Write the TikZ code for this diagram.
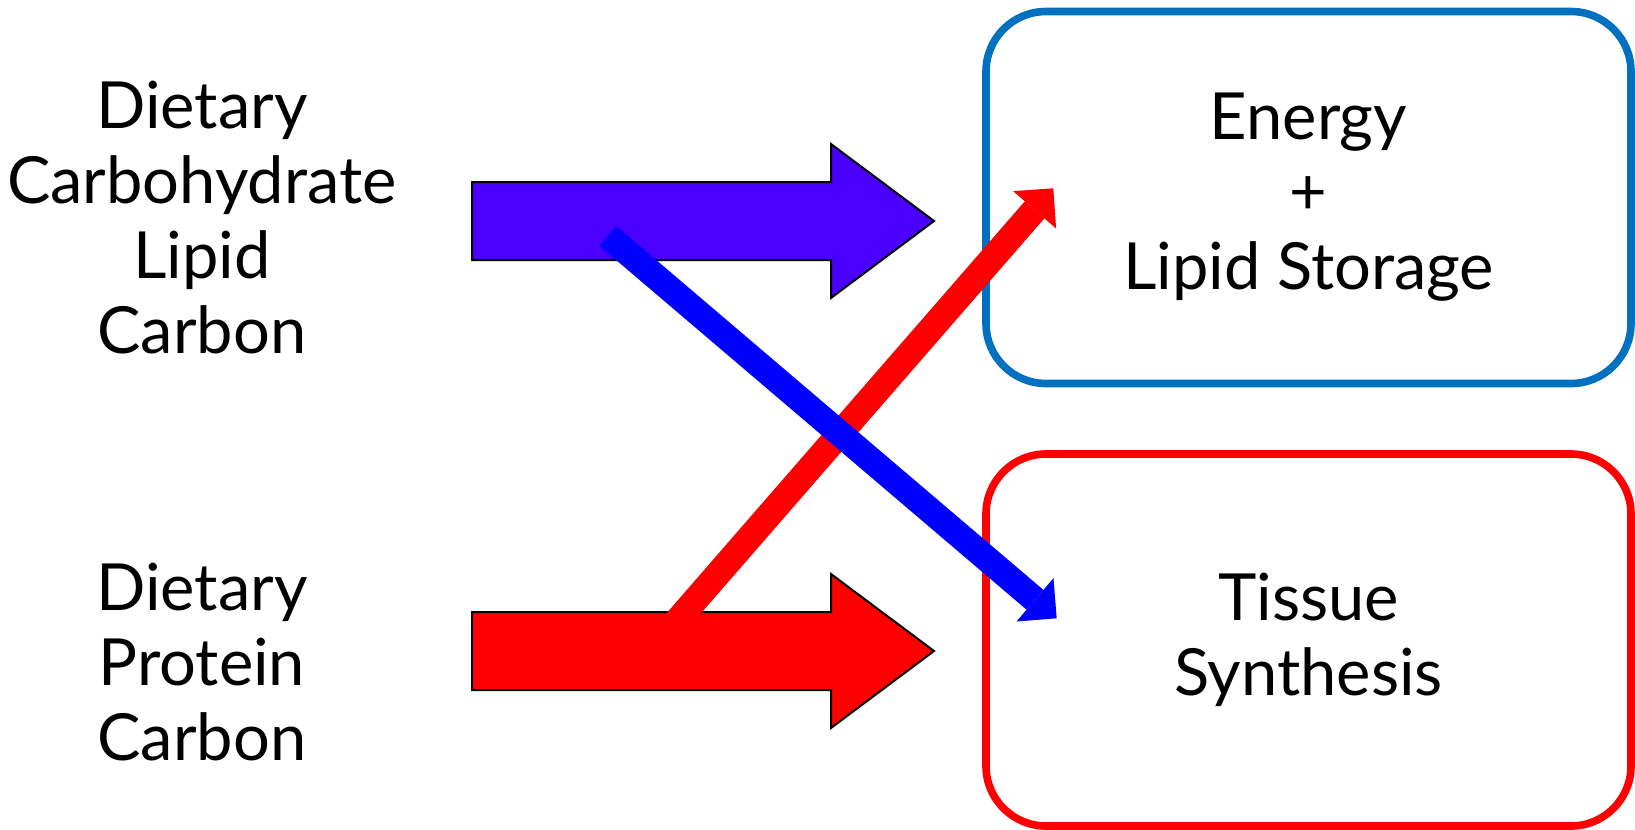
\documentclass[tikz,border=0pt]{standalone}
\usepackage{fontspec}
\setmainfont{Lato}
\usetikzlibrary{arrows.meta}
\definecolor{violetblue}{RGB}{75,0,255}
\definecolor{boxblue}{RGB}{0,112,192}
\definecolor{pureblue}{RGB}{0,0,255}
\definecolor{purered}{RGB}{255,0,0}
\begin{document}
\begin{tikzpicture}[x=0.5pt,y=-0.5pt,
  lbl/.style={align=center,inner sep=0pt,font=\fontsize{32.5}{37.5}\selectfont},
  goalbox/.style={draw,line width=3.8pt,rounded corners=30pt,minimum width=322.5pt,minimum height=186pt,
    align=center,inner sep=0pt,font=\fontsize{32.5}{37.5}\selectfont},
  blockarrow/.style={draw=black,line width=1pt,line join=miter},
  flow/.style={line width=13pt,-{Triangle[width=28.5pt,length=14.25pt,line width=0pt]}}
]
\useasboundingbox (0,0) rectangle (1635,830);
% goal boxes
\node[goalbox,draw=boxblue] (energy) at (1308.5,197.5) {Energy\\+\\Lipid Storage};
\node[goalbox,draw=purered] (tissue) at (1308.5,640) {Tissue\\Synthesis};
% source labels
\node[lbl] (carb) at (202,218) {Dietary\\Carbohydrate\\Lipid\\Carbon};
\node[lbl] (prot) at (202,662) {Dietary\\Protein\\Carbon};
% block arrows
\fill[violetblue] (472,182) -- (831,182) -- (831,144) -- (934,221) -- (831,298) -- (831,260) -- (472,260) -- cycle;
\draw[blockarrow] (472,182) -- (831,182) -- (831,144) -- (934,221) -- (831,298) -- (831,260) -- (472,260) -- cycle;
\fill[purered] (472,612) -- (831,612) -- (831,574) -- (934,651) -- (831,728) -- (831,690) -- (472,690) -- cycle;
\draw[blockarrow] (472,612) -- (831,612) -- (831,574) -- (934,651) -- (831,728) -- (831,690) -- (472,690) -- cycle;
% thin flow arrows
\coordinate (rstart) at (660.5,640);
\coordinate (rend) at (1053.3,188.3);
\coordinate (bstart) at (608,236);
\coordinate (bend) at (1056.7,618.3);
\draw[flow,purered] (rstart) -- (rend);
\draw[flow,pureblue] (bstart) -- (bend);
\end{tikzpicture}
\end{document}
